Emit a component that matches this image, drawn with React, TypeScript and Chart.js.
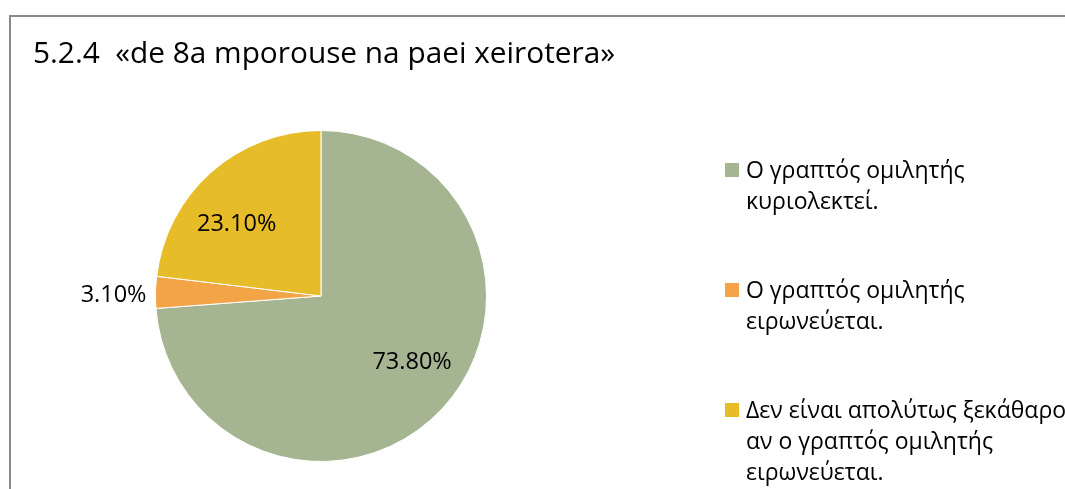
import React, { useEffect, useRef } from "react";
import { Chart, registerables } from "chart.js";

Chart.register(...registerables);

const titleText = "5.2.4  «de 8a mporouse na paei xeirotera»";
const categories: string[][] = [
  ["Ο γραπτός ομιλητής", "κυριολεκτεί."],
  ["Ο γραπτός ομιλητής", "ειρωνεύεται."],
  ["Δεν είναι απολύτως ξεκάθαρο", "αν ο γραπτός ομιλητής", "ειρωνεύεται."],
];
const values = [73.8, 3.1, 23.1];
const valueLabels = ["73.80%", "3.10%", "23.10%"];
const colors = ["#A5B592", "#F3A447", "#E7BC29"];

const FONT = '"Open Sans", "Noto Sans", sans-serif';

const decorPlugin = {
  id: "decor",
  afterDatasetsDraw(chart: any) {
    const ctx = chart.ctx;
    ctx.save();
    // title
    ctx.fillStyle = "#000";
    ctx.font = `29.8px ${FONT}`;
    ctx.textAlign = "left";
    ctx.textBaseline = "alphabetic";
    ctx.fillText(titleText, 33, 63);

    // data labels
    const meta = chart.getDatasetMeta(0);
    ctx.font = `23.5px ${FONT}`;
    ctx.textBaseline = "middle";
    const total = values.reduce((a, b) => a + b, 0);
    meta.data.forEach((arc: any, i: number) => {
      const p = arc.getProps(["x", "y", "startAngle", "endAngle", "outerRadius"], true);
      const mid = (p.startAngle + p.endAngle) / 2;
      const frac = values[i] / total;
      if (frac < 0.05) {
        const d = p.outerRadius + 9;
        const x = p.x + Math.cos(mid) * d;
        const y = p.y + Math.sin(mid) * d + 3;
        ctx.textAlign = Math.cos(mid) < 0 ? "right" : "left";
        ctx.fillText(valueLabels[i], x, y);
      } else {
        const d = p.outerRadius * 0.675;
        const a = mid - 0.13;
        ctx.textAlign = "center";
        ctx.fillText(valueLabels[i], p.x + Math.cos(a) * d, p.y + Math.sin(a) * d + 2);
      }
    });

    // legend
    ctx.font = `23px ${FONT}`;
    ctx.textAlign = "left";
    ctx.textBaseline = "alphabetic";
    categories.forEach((lines, i) => {
      const baseY = 178 + i * 120;
      ctx.fillStyle = colors[i];
      ctx.fillRect(725, baseY - 15, 14, 14);
      ctx.fillStyle = "#000";
      lines.forEach((ln, j) => {
        ctx.fillText(ln, 746, baseY + j * 31);
      });
    });
    ctx.restore();
  },
};

export default function App() {
  const ref = useRef<HTMLCanvasElement>(null);
  useEffect(() => {
    if (!ref.current) return;
    const chart = new Chart(ref.current, {
      type: "pie",
      data: {
        labels: categories.map((c) => c.join(" ")),
        datasets: [
          {
            data: values,
            backgroundColor: colors,
            borderColor: "#ffffff",
            borderWidth: 1,
          },
        ],
      },
      options: {
        animation: false,
        responsive: false,
        maintainAspectRatio: false,
        layout: { padding: { left: 155, top: 130, right: 578, bottom: 27 } },
        plugins: {
          legend: { display: false },
          tooltip: { enabled: false },
          title: { display: false },
        },
      },
      plugins: [decorPlugin],
    });
    return () => chart.destroy();
  }, []);

  return (
    <div style={{ position: "fixed", left: 0, top: 0, width: 1065, height: 489, overflow: "hidden", background: "#fff" }}>
      <div
        style={{
          position: "absolute",
          left: 9,
          top: 15,
          width: 1200,
          height: 600,
          borderLeft: "2px solid #8c8c8c",
          borderTop: "2px solid #8c8c8c",
        }}
      />
      <canvas ref={ref} width={1065} height={489} style={{ position: "absolute", left: 0, top: 0, width: 1065, height: 489 }} />
    </div>
  );
}
